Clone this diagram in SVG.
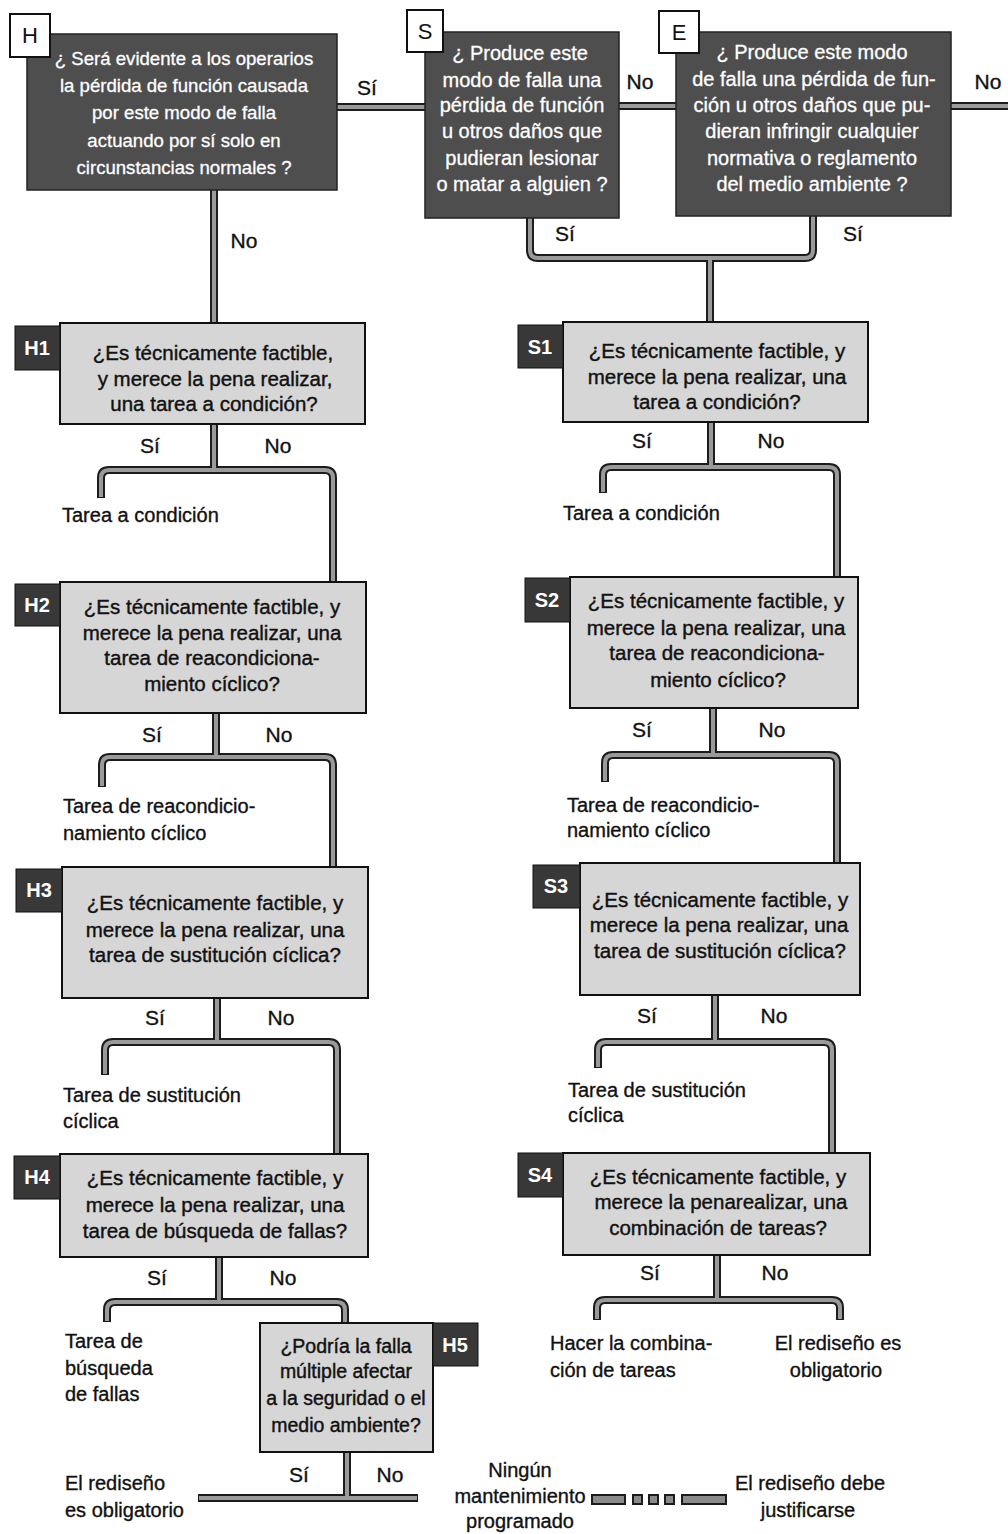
<svg xmlns="http://www.w3.org/2000/svg" width="1008" height="1534" viewBox="0 0 1008 1534">
<style>
text{font-family:"Liberation Sans",Arial,sans-serif;}
.dark{fill:#4e4e4e;stroke:#222;stroke-width:1.5;}
.light{fill:#d6d6d6;stroke:#111;stroke-width:2;}
.tag{fill:#383838;stroke:#111;stroke-width:1;}
.wtag{fill:#fff;stroke:#111;stroke-width:2;}
.tw{fill:#fff;stroke:#fff;stroke-width:0.3;font-size:18.6px;text-anchor:middle;}
.tw2{fill:#fff;stroke:#fff;stroke-width:0.3;font-size:20px;text-anchor:middle;}
.tb{fill:#111;stroke:#111;stroke-width:0.4;font-size:20.5px;text-anchor:middle;}
.tt{fill:#fff;font-size:20px;font-weight:bold;text-anchor:middle;}
.tl{fill:#111;font-size:22px;text-anchor:middle;}
.yn{fill:#111;stroke:#111;stroke-width:0.35;font-size:21px;text-anchor:middle;}
.out{fill:#111;stroke:#111;stroke-width:0.35;font-size:20px;}
.outc{fill:#111;stroke:#111;stroke-width:0.35;font-size:20px;text-anchor:middle;}
.c1{fill:none;stroke:#1c1c1c;stroke-width:8;}
.c2{fill:none;stroke:#9a9a9a;stroke-width:4;}
.blk{fill:#8a8a8a;stroke:#1c1c1c;stroke-width:2;}
</style>
<rect width="1008" height="1534" fill="#fff"/>

<g id="connectors">
 <g class="c1">
  <path d="M337,107 H425"/>
  <path d="M619,106 H676"/>
  <path d="M951,106 H1008"/>
  <path d="M214,190 V323"/>
  <path d="M530,218 V250 Q530,258 538,258 H805 Q813,258 813,250 V216"/>
  <path d="M710,258 V322"/>
  <path d="M214,424 V470"/>
  <path d="M101,498 V478 Q101,470 109,470 H325 Q333,470 333,478 V582"/>
  <path d="M216,713 V757"/>
  <path d="M102,787 V765 Q102,757 110,757 H325 Q333,757 333,765 V867"/>
  <path d="M217,998 V1042"/>
  <path d="M105,1075 V1050 Q105,1042 113,1042 H329 Q337,1042 337,1050 V1154"/>
  <path d="M219,1257 V1302"/>
  <path d="M107,1322 V1310 Q107,1302 115,1302 H337 Q345,1302 345,1310 V1323"/>
  <path d="M347,1452 V1498"/>
  <path d="M198,1498 H418"/>
  <path d="M711,422 V467"/>
  <path d="M603,493 V475 Q603,467 611,467 H829 Q837,467 837,475 V577"/>
  <path d="M713,708 V755"/>
  <path d="M605,782 V763 Q605,755 613,755 H829 Q837,755 837,763 V863"/>
  <path d="M715,995 V1042"/>
  <path d="M598,1068 V1050 Q598,1042 606,1042 H824 Q832,1042 832,1050 V1153"/>
  <path d="M717,1255 V1300"/>
  <path d="M597,1320 V1308 Q597,1300 605,1300 H832 Q840,1300 840,1308 V1320"/>
 </g>
 <g class="c2">
  <path d="M337,107 H425"/>
  <path d="M619,106 H676"/>
  <path d="M951,106 H1008"/>
  <path d="M214,190 V323"/>
  <path d="M530,218 V250 Q530,258 538,258 H805 Q813,258 813,250 V216"/>
  <path d="M710,258 V322"/>
  <path d="M214,424 V470"/>
  <path d="M101,497 V478 Q101,470 109,470 H325 Q333,470 333,478 V582"/>
  <path d="M216,713 V757"/>
  <path d="M102,786 V765 Q102,757 110,757 H325 Q333,757 333,765 V867"/>
  <path d="M217,998 V1042"/>
  <path d="M105,1074 V1050 Q105,1042 113,1042 H329 Q337,1042 337,1050 V1154"/>
  <path d="M219,1257 V1302"/>
  <path d="M107,1321 V1310 Q107,1302 115,1302 H337 Q345,1302 345,1310 V1323"/>
  <path d="M347,1452 V1498"/>
  <path d="M199,1498 H417"/>
  <path d="M711,422 V467"/>
  <path d="M603,492 V475 Q603,467 611,467 H829 Q837,467 837,475 V577"/>
  <path d="M713,708 V755"/>
  <path d="M605,781 V763 Q605,755 613,755 H829 Q837,755 837,763 V863"/>
  <path d="M715,995 V1042"/>
  <path d="M598,1067 V1050 Q598,1042 606,1042 H824 Q832,1042 832,1050 V1153"/>
  <path d="M717,1255 V1300"/>
  <path d="M597,1319 V1308 Q597,1300 605,1300 H832 Q840,1300 840,1308 V1319"/>
 </g>
 <g id="dashed-link">
  <rect class="blk" x="592" y="1495" width="33" height="9"/>
  <rect class="blk" x="633" y="1495" width="9" height="9"/>
  <rect class="blk" x="649" y="1495" width="9" height="9"/>
  <rect class="blk" x="665" y="1495" width="9" height="9"/>
  <rect class="blk" x="682" y="1495" width="44" height="9"/>
 </g>
 <g id="connector-labels">
  <text class="yn" x="367" y="95">Sí</text>
  <text class="yn" x="640" y="89">No</text>
  <text class="yn" x="988" y="89">No</text>
  <text class="yn" x="244" y="248">No</text>
  <text class="yn" x="565" y="241">Sí</text>
  <text class="yn" x="853" y="241">Sí</text>
  <text class="yn" x="150" y="453">Sí</text>
  <text class="yn" x="278" y="453">No</text>
  <text class="yn" x="642" y="448">Sí</text>
  <text class="yn" x="771" y="448">No</text>
  <text class="yn" x="152" y="742">Sí</text>
  <text class="yn" x="279" y="742">No</text>
  <text class="yn" x="642" y="737">Sí</text>
  <text class="yn" x="772" y="737">No</text>
  <text class="yn" x="155" y="1025">Sí</text>
  <text class="yn" x="281" y="1025">No</text>
  <text class="yn" x="647" y="1023">Sí</text>
  <text class="yn" x="774" y="1023">No</text>
  <text class="yn" x="157" y="1285">Sí</text>
  <text class="yn" x="283" y="1285">No</text>
  <text class="yn" x="650" y="1280">Sí</text>
  <text class="yn" x="775" y="1280">No</text>
  <text class="yn" x="299" y="1482">Sí</text>
  <text class="yn" x="390" y="1482">No</text>
 </g>
</g>

<g id="node-H">
 <rect class="dark" x="27" y="34" width="310" height="156"/>
 <rect class="wtag" x="10" y="14" width="40" height="43"/>
 <text class="tl" x="30" y="43">H</text>
 <text class="tw" x="184" y="65">¿ Será evidente a los operarios</text>
 <text class="tw" x="184" y="92">la pérdida de función causada</text>
 <text class="tw" x="184" y="119">por este modo de falla</text>
 <text class="tw" x="184" y="147">actuando por sí solo en</text>
 <text class="tw" x="184" y="174">circunstancias normales ?</text>
</g>

<g id="node-S">
 <rect class="dark" x="425" y="32" width="194" height="186"/>
 <rect class="wtag" x="407" y="10" width="36" height="42"/>
 <text class="tl" x="425" y="39">S</text>
 <text class="tw2" x="520" y="60">¿ Produce este</text>
 <text class="tw2" x="522" y="87">modo de falla una</text>
 <text class="tw2" x="522" y="112">pérdida de función</text>
 <text class="tw2" x="522" y="138">u otros daños que</text>
 <text class="tw2" x="522" y="165">pudieran lesionar</text>
 <text class="tw2" x="522" y="191">o matar a alguien ?</text>
</g>

<g id="node-E">
 <rect class="dark" x="676" y="32" width="275" height="184"/>
 <rect class="wtag" x="659" y="11" width="40" height="42"/>
 <text class="tl" x="679" y="40">E</text>
 <text class="tw2" x="812" y="59">¿ Produce este modo</text>
 <text class="tw2" x="814" y="86">de falla una pérdida de fun-</text>
 <text class="tw2" x="812" y="112">ción u otros daños que pu-</text>
 <text class="tw2" x="812" y="138">dieran infringir cualquier</text>
 <text class="tw2" x="812" y="165">normativa o reglamento</text>
 <text class="tw2" x="812" y="191">del medio ambiente ?</text>
</g>

<g id="node-H1">
 <rect class="light" x="60" y="323" width="305" height="101"/>
 <rect class="tag" x="15" y="326" width="45" height="44"/>
 <text class="tt" x="37" y="355">H1</text>
 <text class="tb" x="213" y="360">¿Es técnicamente factible,</text>
 <text class="tb" x="215" y="386">y merece la pena realizar,</text>
 <text class="tb" x="214" y="411">una tarea a condición?</text>
</g>
<text id="out-H1" class="out" x="62" y="522">Tarea a condición</text>

<g id="node-H2">
 <rect class="light" x="60" y="582" width="306" height="131"/>
 <rect class="tag" x="15" y="584" width="45" height="42"/>
 <text class="tt" x="37" y="612">H2</text>
 <text class="tb" x="212" y="614">¿Es técnicamente factible, y</text>
 <text class="tb" x="212" y="640">merece la pena realizar, una</text>
 <text class="tb" x="212" y="665">tarea de reacondiciona-</text>
 <text class="tb" x="212" y="691">miento cíclico?</text>
</g>
<g id="out-H2">
 <text class="out" x="63" y="813">Tarea de reacondicio-</text>
 <text class="out" x="63" y="840">namiento cíclico</text>
</g>

<g id="node-H3">
 <rect class="light" x="62" y="867" width="306" height="131"/>
 <rect class="tag" x="16" y="869" width="46" height="43"/>
 <text class="tt" x="39" y="897">H3</text>
 <text class="tb" x="215" y="910">¿Es técnicamente factible, y</text>
 <text class="tb" x="215" y="937">merece la pena realizar, una</text>
 <text class="tb" x="215" y="962">tarea de sustitución cíclica?</text>
</g>
<g id="out-H3">
 <text class="out" x="63" y="1102">Tarea de sustitución</text>
 <text class="out" x="63" y="1128">cíclica</text>
</g>

<g id="node-H4">
 <rect class="light" x="60" y="1154" width="308" height="103"/>
 <rect class="tag" x="14" y="1156" width="46" height="43"/>
 <text class="tt" x="37" y="1184">H4</text>
 <text class="tb" x="215" y="1185">¿Es técnicamente factible, y</text>
 <text class="tb" x="215" y="1212">merece la pena realizar, una</text>
 <text class="tb" x="215" y="1238">tarea de búsqueda de fallas?</text>
</g>
<g id="out-H4">
 <text class="out" x="65" y="1348">Tarea de</text>
 <text class="out" x="65" y="1375">búsqueda</text>
 <text class="out" x="65" y="1401">de fallas</text>
</g>

<g id="node-H5">
 <rect class="light" x="260" y="1323" width="173" height="129"/>
 <rect class="tag" x="433" y="1323" width="45" height="43"/>
 <text class="tt" x="455" y="1352">H5</text>
 <text class="tb" x="346" y="1353" style="font-size:19.5px">¿Podría la falla</text>
 <text class="tb" x="346" y="1378" style="font-size:19.5px">múltiple afectar</text>
 <text class="tb" x="346" y="1405" style="font-size:19.5px">a la seguridad o el</text>
 <text class="tb" x="346" y="1432" style="font-size:19.5px">medio ambiente?</text>
</g>
<g id="out-H5-si">
 <text class="out" x="65" y="1490">El rediseño</text>
 <text class="out" x="65" y="1517">es obligatorio</text>
</g>
<g id="out-H5-no">
 <text class="outc" x="520" y="1477">Ningún</text>
 <text class="outc" x="520" y="1503">mantenimiento</text>
 <text class="outc" x="520" y="1528">programado</text>
</g>
<g id="out-justify">
 <text class="outc" x="810" y="1490">El rediseño debe</text>
 <text class="outc" x="808" y="1517">justificarse</text>
</g>

<g id="node-S1">
 <rect class="light" x="563" y="322" width="305" height="100"/>
 <rect class="tag" x="518" y="325" width="45" height="43"/>
 <text class="tt" x="540" y="354">S1</text>
 <text class="tb" x="717" y="358">¿Es técnicamente factible, y</text>
 <text class="tb" x="717" y="384">merece la pena realizar, una</text>
 <text class="tb" x="717" y="409">tarea a condición?</text>
</g>
<text id="out-S1" class="out" x="563" y="520">Tarea a condición</text>

<g id="node-S2">
 <rect class="light" x="570" y="577" width="288" height="131"/>
 <rect class="tag" x="525" y="578" width="45" height="44"/>
 <text class="tt" x="547" y="607">S2</text>
 <text class="tb" x="716" y="608">¿Es técnicamente factible, y</text>
 <text class="tb" x="716" y="635">merece la pena realizar, una</text>
 <text class="tb" x="717" y="660">tarea de reacondiciona-</text>
 <text class="tb" x="718" y="687">miento cíclico?</text>
</g>
<g id="out-S2">
 <text class="out" x="567" y="812">Tarea de reacondicio-</text>
 <text class="out" x="567" y="837">namiento cíclico</text>
</g>

<g id="node-S3">
 <rect class="light" x="580" y="863" width="280" height="132"/>
 <rect class="tag" x="533" y="865" width="47" height="43"/>
 <text class="tt" x="556" y="893">S3</text>
 <text class="tb" x="720" y="907">¿Es técnicamente factible, y</text>
 <text class="tb" x="719" y="932">merece la pena realizar, una</text>
 <text class="tb" x="720" y="958">tarea de sustitución cíclica?</text>
</g>
<g id="out-S3">
 <text class="out" x="568" y="1097">Tarea de sustitución</text>
 <text class="out" x="568" y="1122">cíclica</text>
</g>

<g id="node-S4">
 <rect class="light" x="563" y="1153" width="307" height="102"/>
 <rect class="tag" x="518" y="1153" width="45" height="44"/>
 <text class="tt" x="540" y="1182">S4</text>
 <text class="tb" x="718" y="1184">¿Es técnicamente factible, y</text>
 <text class="tb" x="721" y="1209">merece la penarealizar, una</text>
 <text class="tb" x="718" y="1235">combinación de tareas?</text>
</g>
<g id="out-S4-si">
 <text class="out" x="550" y="1350">Hacer la combina-</text>
 <text class="out" x="550" y="1377">ción de tareas</text>
</g>
<g id="out-S4-no">
 <text class="outc" x="838" y="1350">El rediseño es</text>
 <text class="outc" x="836" y="1377">obligatorio</text>
</g>
</svg>
